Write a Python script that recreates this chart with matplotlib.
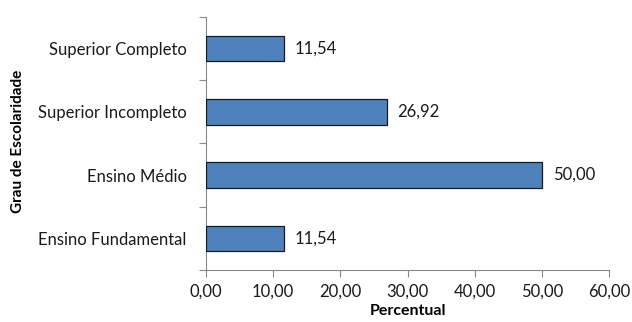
import matplotlib.pyplot as plt
import numpy as np

plt.rcParams['font.family'] = ['Lato', 'DejaVu Sans']

categorias = ['Ensino Fundamental', 'Ensino Médio', 'Superior Incompleto', 'Superior Completo']
percentual = [11.54, 50.00, 26.92, 11.54]
xticks = [0, 10, 20, 30, 40, 50, 60]


def fmt(v):
    return f'{v:.2f}'.replace('.', ',')


fig = plt.figure(figsize=(6.32, 3.22), dpi=100)
ax = fig.add_axes([0.326, 0.1615, 0.6377, 0.7857])

y = np.arange(len(categorias))
ax.barh(y, percentual, height=0.4, color='#4F81BD', edgecolor='#1a1a1a', linewidth=0.9, zorder=3)

for yi, v in zip(y, percentual):
    ax.text(v + 1.6, yi, fmt(v), ha='left', va='center', fontsize=12, color='#1a1a1a')

ax.set_xlim(0, 60)
ax.set_ylim(-0.5, len(categorias) - 0.5)

ax.set_xticks(xticks)
ax.set_xticklabels([fmt(t) for t in xticks], fontsize=12, color='#1a1a1a')

# rotulos no centro, tracos nas divisas
ax.set_yticks(np.arange(-0.5, len(categorias)), labels=[''] * (len(categorias) + 1))
ax.set_yticks(y, labels=categorias, minor=True)
ax.tick_params(axis='y', which='minor', length=0, pad=14, labelsize=12, labelcolor='#1a1a1a')
ax.tick_params(axis='y', which='major', length=5, color='#888888')
ax.tick_params(axis='x', length=5, color='#888888', pad=5)

for s in ['top', 'right']:
    ax.spines[s].set_visible(False)
for s in ['left', 'bottom']:
    ax.spines[s].set_color('#888888')

ax.set_xlabel('Percentual', fontsize=11.5, fontweight='bold', labelpad=3)
fig.text(0.028, 0.56, 'Grau de Escolaridade', rotation=90, ha='center', va='center',
         fontsize=11, fontweight='bold')

fig.savefig('out.png', dpi=100, facecolor='white')
